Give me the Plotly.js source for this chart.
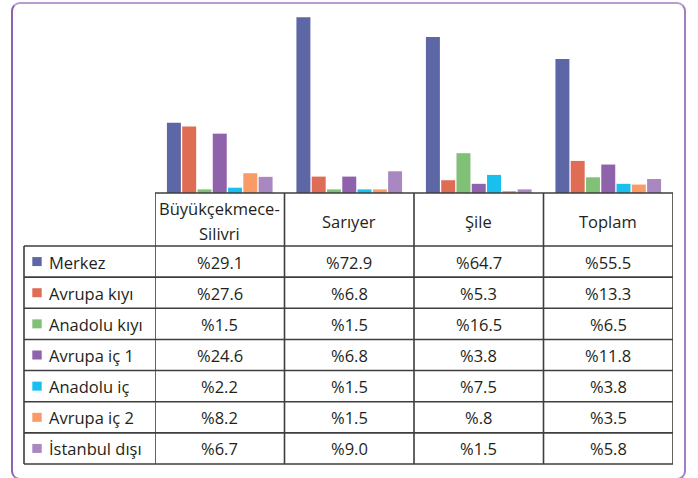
<!DOCTYPE html>
<html>
<head>
<meta charset="utf-8">
<script src="https://cdn.plot.ly/plotly-3.0.1.min.js"></script>
<style>
  html, body { margin: 0; padding: 0; background: #ffffff; }
  #wrap { position: relative; width: 698px; height: 478px; overflow: hidden; }
  #frame { position: absolute; left: 11px; top: 2px; width: 675px; height: 478px;
           border: 2px solid #a47ec4; border-top-color: #b99bd1; border-left-color: #8d62b0;
           border-radius: 9px; box-sizing: border-box; }
  #chart { position: absolute; left: 0; top: 0; width: 698px; height: 478px; }
</style>
</head>
<body>
<div id="wrap">
  <div id="frame"></div>
  <div id="chart"></div>
</div>
<script>
// ---- data ----
const categories = ["Büyükçekmece-Silivri", "Sarıyer", "Şile", "Toplam"];
const seriesNames = ["Merkez", "Avrupa kıyı", "Anadolu kıyı", "Avrupa iç 1", "Anadolu iç", "Avrupa iç 2", "İstanbul dışı"];
const merkez       = [29.1, 72.9, 64.7, 55.5];
const avrupaKiyi   = [27.6, 6.8, 5.3, 13.3];
const anadoluKiyi  = [1.5, 1.5, 16.5, 6.5];
const avrupaIc1    = [24.6, 6.8, 3.8, 11.8];
const anadoluIc    = [2.2, 1.5, 7.5, 3.8];
const avrupaIc2    = [8.2, 1.5, 0.8, 3.5];
const istanbulDisi = [6.7, 9.0, 1.5, 5.8];
const seriesValues = [merkez, avrupaKiyi, anadoluKiyi, avrupaIc1, anadoluIc, avrupaIc2, istanbulDisi];
const colors = ["#5e67a6", "#df6c55", "#80c077", "#8f63ab", "#19c0ef", "#f89b67", "#a988c1"];

// ---- layout geometry (pixels) ----
const W = 698, H = 478;
const mL = 155, mR = 25, mT = 0, mB = 285;
const plotL = mL, plotR = W - mR, plotT = mT, plotB = H - mB;
const px = x => (x - plotL) / (plotR - plotL);
const py = y => (plotB - y) / (plotB - plotT);

const tableLeft = 24;
const headerTop = plotB, headerBottom = 246;
const rowH = (464 - headerBottom) / seriesNames.length;
const lineColor = "#3e3e3e";
const textColor = "#231f20";
const fontFam = "'Open Sans', 'Noto Sans', sans-serif";
const fs = 16.5;

function fmt(v) {
  let s = v.toFixed(1);
  if (v < 1) s = s.replace(/^0/, "");
  return "%" + s;
}

const traces = seriesNames.map((n, i) => ({
  type: "bar", name: n, x: categories, y: seriesValues[i],
  marker: { color: colors[i], line: { width: 0 } },
  showlegend: false, hoverinfo: "skip"
}));

const shapes = [];
const annotations = [];
const nCat = categories.length;

// header top line
shapes.push({ type: "line", xref: "x", yref: "paper", x0: -0.5, x1: nCat - 0.5,
  y0: py(headerTop), y1: py(headerTop), line: { color: lineColor, width: 1.6 } });
// row lines
for (let r = 0; r <= seriesNames.length; r++) {
  const y = headerBottom + r * rowH;
  shapes.push({ type: "line", xref: "paper", yref: "paper", x0: px(tableLeft), x1: 1,
    y0: py(y), y1: py(y), line: { color: lineColor, width: 1.6 } });
}
// vertical lines
shapes.push({ type: "line", xref: "paper", yref: "paper", x0: px(tableLeft), x1: px(tableLeft),
  y0: py(headerBottom), y1: py(464), line: { color: lineColor, width: 1.6 } });
for (let c = 0; c <= nCat; c++) {
  shapes.push({ type: "line", xref: "x", yref: "paper", x0: c - 0.5, x1: c - 0.5,
    y0: py(headerTop), y1: py(464), line: { color: lineColor, width: 1.6 } });
}

// header texts
categories.forEach((c, i) => {
  const parts = c.includes("-") ? [c.slice(0, c.indexOf("-") + 1), c.slice(c.indexOf("-") + 1)] : [c];
  const centers = parts.length === 2 ? [208.5, 233.5] : [221];
  parts.forEach((p, k) => {
    annotations.push({ xref: "x", yref: "paper", x: i, y: py(centers[k]), text: p,
      showarrow: false, xanchor: "center", yanchor: "middle",
      font: { family: fontFam, size: fs, color: textColor } });
  });
});

// rows
seriesNames.forEach((n, r) => {
  const cy = headerBottom + (r + 0.5) * rowH;
  shapes.push({ type: "rect", xref: "paper", yref: "paper",
    x0: px(32.3), x1: px(41.7), y0: py(cy - 4.5), y1: py(cy + 4.5),
    fillcolor: colors[r], line: { width: 0 } });
  annotations.push({ xref: "paper", yref: "paper", x: px(47), y: py(cy + 0.5), text: n,
    showarrow: false, xanchor: "left", yanchor: "middle",
    font: { family: fontFam, size: fs, color: textColor } });
  seriesValues[r].forEach((v, i) => {
    annotations.push({ xref: "x", yref: "paper", x: i, y: py(cy + 0.5), text: fmt(v),
      showarrow: false, xanchor: "center", yanchor: "middle",
      font: { family: fontFam, size: fs, color: textColor } });
  });
});

const layout = {
  width: W, height: H,
  margin: { l: mL, r: mR, t: mT, b: mB, pad: 0 },
  paper_bgcolor: "rgba(0,0,0,0)", plot_bgcolor: "rgba(0,0,0,0)",
  barmode: "group", bargap: 0.174, bargroupgap: 0.085,
  xaxis: { type: "category", showticklabels: false, ticks: "", showgrid: false,
    zeroline: false, showline: false, range: [-0.5, nCat - 0.5], fixedrange: true },
  yaxis: { range: [0, 80], showticklabels: false, ticks: "", showgrid: false,
    zeroline: false, showline: false, fixedrange: true },
  shapes: shapes, annotations: annotations,
  font: { family: fontFam, color: textColor }
};

Plotly.newPlot("chart", traces, layout, { displayModeBar: false, staticPlot: true });
</script>
</body>
</html>
